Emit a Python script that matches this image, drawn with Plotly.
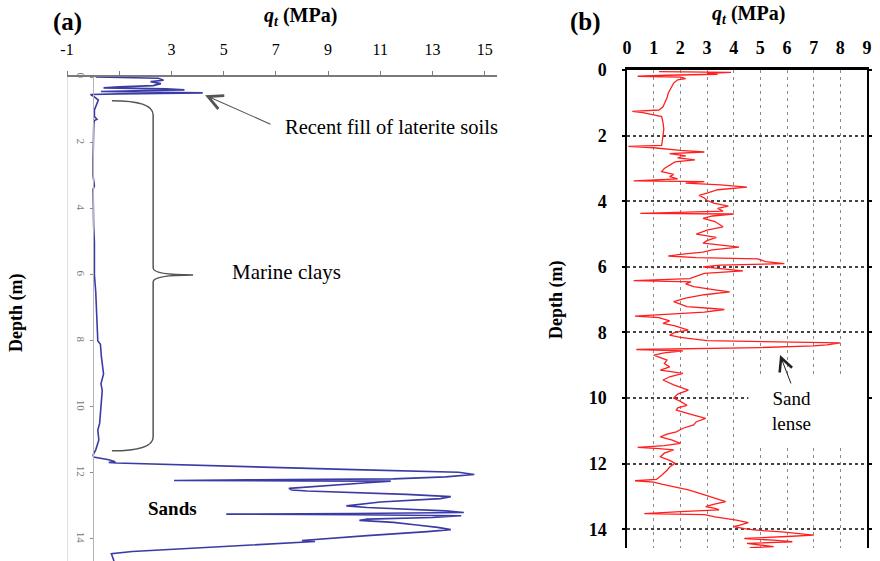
import plotly.graph_objects as go

# ---------------- data (a) : CPT profile, qt (MPa) vs depth (m)
depth_a = [0.00, 0.02, 0.04, 0.10, 0.14, 0.20, 0.26, 0.30, 0.33, 0.36, 0.39, 0.41, 0.44, 0.46,
           0.48, 0.51, 0.53, 0.60, 0.70, 0.80, 0.90, 1.00, 1.20, 1.28, 1.32, 1.40, 1.60, 2.0,
           2.5, 3.0, 3.3, 3.4, 4.0, 4.5, 5.0, 5.5, 6.0, 6.5, 7.0, 7.5, 8.0, 8.1, 8.5, 9.0,
           9.3, 9.5, 10.0, 10.5, 10.7, 11.0, 11.3, 11.45,
           11.52, 11.60, 11.66, 11.68, 11.70, 11.80, 11.90, 11.98, 12.05, 12.12, 12.18, 12.21,
           12.23, 12.24, 12.25, 12.30, 12.40, 12.47, 12.52, 12.55, 12.65, 12.72, 12.78, 12.88,
           13.00, 13.05, 13.15, 13.20, 13.23, 13.25, 13.27, 13.30, 13.35, 13.40, 13.44, 13.50,
           13.58, 13.65, 13.72, 13.78, 13.90, 14.00, 14.05, 14.08, 14.12, 14.25, 14.38, 14.45,
           14.55, 14.67]
qt_a = [0.1, 1.0, 2.5, 2.7, 2.2, 2.6, 2.3, 1.0, 0.4, 2.8, 3.5, 2.0, 0.3, 2.5,
        4.2, 1.0, -0.1, 0.05, 0.2, 0.15, 0.1, 0.05, 0.05, 0.15, 0.05, 0.03, 0.02, 0.0,
        0.0, 0.0, 0.05, 0.0, 0.0, 0.02, 0.05, 0.05, 0.05, 0.1, 0.12, 0.15, 0.18, 0.28, 0.32, 0.4,
        0.3, 0.35, 0.3, 0.25, 0.18, 0.22, 0.1, 0.0,
        0.02, 0.6, 0.85, 0.6, 0.9, 5.0, 10.0, 14.0, 14.6, 13.5, 11.5, 6.0,
        3.1, 8.0, 11.4, 10.5, 8.5, 7.5, 7.6, 8.2, 12.0, 13.7, 13.3, 11.0,
        9.7, 10.5, 13.5, 14.2, 10.0, 5.1, 10.0, 14.1, 13.0, 10.5, 10.2, 11.5,
        12.4, 13.2, 13.7, 12.8, 10.5, 9.0, 8.0, 8.5, 7.5, 4.5, 1.5, 0.7,
        0.75, 0.8]

# ---------------- data (b)
depth_b = [0.05, 0.07, 0.10, 0.13, 0.16, 0.19, 0.22, 0.26, 0.30, 0.40, 0.55, 0.70, 0.85, 1.00,
           1.12, 1.22, 1.26, 1.30, 1.36, 1.42, 1.60, 1.80, 2.00, 2.20, 2.30, 2.33, 2.37, 2.45,
           2.50, 2.55, 2.62, 2.68, 2.74, 2.80, 2.90, 3.00, 3.10, 3.18, 3.25, 3.32, 3.38, 3.40,
           3.45, 3.50, 3.57, 3.65, 3.75, 3.82, 3.90, 3.97, 4.06, 4.15, 4.22, 4.30, 4.37, 4.39,
           4.45, 4.52, 4.62, 4.72, 4.78, 4.88, 5.00, 5.10, 5.20, 5.28, 5.34, 5.40, 5.48, 5.55,
           5.62, 5.67, 5.72, 5.76, 5.84, 5.90, 5.95, 6.00, 6.06, 6.12, 6.20, 6.30, 6.36, 6.42,
           6.46, 6.52, 6.60, 6.70, 6.76, 6.85, 6.95, 7.06, 7.15, 7.21, 7.27, 7.30, 7.38, 7.45,
           7.50, 7.55, 7.65, 7.72, 7.80, 7.93, 8.00, 8.08, 8.15, 8.25, 8.28, 8.32, 8.38, 8.41,
           8.46, 8.52, 8.56, 8.62, 8.69, 8.78, 8.84, 8.95, 9.05, 9.15, 9.25, 9.35, 9.45, 9.60,
           9.76, 9.88, 10.00, 10.10, 10.22, 10.30, 10.37, 10.50, 10.62, 10.72, 10.82, 10.92,
           11.03, 11.10, 11.18, 11.28, 11.38, 11.45, 11.50, 11.54, 11.58, 11.68, 11.79, 11.90,
           11.99, 12.10, 12.20, 12.35, 12.48, 12.52, 12.56, 12.62, 12.70, 12.80, 12.90, 12.96,
           13.05, 13.16, 13.25, 13.31, 13.36, 13.41, 13.46, 13.52, 13.55, 13.62, 13.72, 13.80,
           13.88, 13.92, 13.98, 14.02, 14.08, 14.14, 14.18, 14.22, 14.28, 14.33, 14.38, 14.43,
           14.48, 14.53, 14.56]
qt_b = [1.2, 3.9, 3.0, 3.4, 1.5, 0.4, 2.0, 2.2, 1.9, 1.75, 1.65, 1.55, 1.5, 1.42,
        1.35, 1.2, 0.2, 0.6, 1.0, 1.3, 1.35, 1.38, 1.35, 1.32, 1.3, 0.05, 1.0, 2.0,
        2.9, 1.6, 2.2, 1.9, 2.55, 1.8, 1.6, 1.4, 1.3, 1.75, 1.6, 1.9, 0.25, 2.9,
        2.2, 3.5, 4.5, 3.4, 3.0, 2.7, 2.9, 3.0, 3.25, 3.8, 3.4, 3.6, 0.5, 4.0,
        3.2, 2.85, 3.3, 3.5, 3.6, 3.0, 2.6, 3.35, 3.0, 2.85, 3.5, 4.2, 3.2, 2.85,
        2.0, 1.55, 2.6, 4.9, 5.2, 5.9, 3.5, 2.85, 3.6, 4.35, 2.9, 2.6, 2.35, 0.25,
        2.4, 2.2, 2.5, 3.3, 3.85, 2.9, 2.2, 1.75, 2.1, 2.25, 3.2, 3.65, 2.9, 1.5,
        0.3, 1.2, 1.6, 1.35, 1.8, 2.3, 1.8, 1.6, 2.0, 3.0, 5.0, 8.0, 7.5, 7.0,
        5.0, 0.35, 2.1, 1.4, 1.0, 1.3, 1.5, 1.4, 1.6, 1.25, 2.1, 1.6, 1.35, 1.75,
        2.3, 1.9, 1.75, 2.0, 2.25, 1.9, 1.85, 2.4, 2.95, 2.6, 2.5, 2.1,
        1.85, 1.5, 1.25, 1.7, 2.0, 1.4, 0.4, 1.2, 1.75, 1.4, 1.25, 1.6,
        1.8, 1.6, 1.5, 1.3, 1.1, 0.3, 1.0, 1.3, 1.8, 2.3, 2.7, 2.95,
        3.3, 3.7, 3.2, 2.95, 3.3, 3.45, 2.0, 0.65, 2.9, 3.3, 4.1, 4.55,
        4.2, 4.0, 4.4, 4.75, 5.8, 6.5, 7.0, 6.0, 4.4, 5.5, 6.2, 4.5,
        5.0, 5.5, 4.6]

ticks_a = [-1, 1, 3, 5, 7, 9, 11, 13, 15]
ticktext_a = ["-1", "", "3", "5", "7", "9", "11", "13", "15"]
depth_ticks = [0, 2, 4, 6, 8, 10, 12, 14]
ticks_b = list(range(10))

W, H = 880, 561
SERIF = "Liberation Serif"


def P(px, py):
    return px / W, 1 - py / H


fig = go.Figure()
fig.add_trace(go.Scatter(x=qt_a, y=depth_a, mode="lines", xaxis="x", yaxis="y",
                         line=dict(color="#3b3ba6", width=1.6), showlegend=False))
fig.add_trace(go.Scatter(x=qt_b, y=depth_b, mode="lines", xaxis="x2", yaxis="y2",
                         line=dict(color="#ff1f1f", width=1.3), showlegend=False))

fig.update_layout(
    width=W, height=H, margin=dict(l=0, r=0, t=0, b=0, autoexpand=False),
    paper_bgcolor="white", plot_bgcolor="white", showlegend=False,
    font=dict(family=SERIF, color="black"),
    xaxis=dict(domain=[67 / W, 497 / W], range=[-1, 15.47], side="top", anchor="y",
               showline=True, linecolor="#7a7a7a", linewidth=1.5, ticks="outside",
               ticklen=4, tickcolor="#7a7a7a", tickvals=ticks_a, ticktext=ticktext_a,
               tickfont=dict(family=SERIF, size=16, color="black"), ticklabelstandoff=10,
               showgrid=False, zeroline=False, automargin=False),
    yaxis=dict(domain=[0, 1 - 77 / H], range=[14.67, 0], anchor="free", position=93 / W,
               showline=True, linecolor="#b5b5b5", linewidth=1, ticks="outside", ticklen=3,
               tickcolor="#888", tickvals=depth_ticks, tickangle=90,
               tickfont=dict(family=SERIF, size=11, color="#777"),
               showgrid=False, zeroline=False, automargin=False),
    xaxis2=dict(domain=[627 / W, 867 / W], range=[0, 9], side="top", anchor="y2",
                showline=True, linecolor="black", linewidth=2.5, ticks="",
                tickvals=ticks_b, tickfont=dict(family=SERIF, size=18, weight="bold"),
                ticklabelstandoff=6, showgrid=True, gridcolor="#8a8a8a", gridwidth=1,
                griddash="3px,4px", zeroline=False, automargin=False),
    yaxis2=dict(domain=[1 - 548 / H, 1 - 70 / H], range=[14.57, 0], anchor="x2",
                showline=True, linecolor="black", linewidth=1.5, mirror="ticks",
                ticks="outside", ticklen=3, tickwidth=2, tickcolor="black",
                tickvals=depth_ticks, tickfont=dict(family=SERIF, size=18, weight="bold"),
                ticklabelstandoff=12, showgrid=True, gridcolor="#444", gridwidth=1.5,
                griddash="dot", zeroline=False, automargin=False),
)

# left frame line of panel (a)
fig.add_shape(type="line", xref="x", yref="y", x0=-1, x1=-1, y0=0, y1=14.67,
              line=dict(color="#c4c4c4", width=1))
# curly brace (marine clays)
brace = ("M 0.72,0.72 Q 2.30,0.72 2.30,1.15 L 2.30,5.79 Q 2.30,6.0 3.83,6.0 "
         "Q 2.30,6.0 2.30,6.21 L 2.30,10.91 Q 2.30,11.33 0.72,11.33")
fig.add_shape(type="path", xref="x", yref="y", path=brace,
              line=dict(color="#555", width=1.5))
# blank box behind "Sand lense"
fig.add_shape(type="rect", xref="x2", yref="y2", x0=4.55, x1=9, y0=9.38, y1=11.45,
              fillcolor="white", line=dict(width=0), layer="between")

ann = []


def txt(px, py, text, size, bold=False, xanchor="center", angle=0):
    x, y = P(px, py)
    ann.append(dict(x=x, y=y, xref="paper", yref="paper", text=text, showarrow=False,
                    xanchor=xanchor, yanchor="middle", textangle=angle,
                    font=dict(family=SERIF, size=size, color="black",
                              weight="bold" if bold else "normal")))


txt(67, 22, "(a)", 25, bold=True)
txt(585, 22, "(b)", 25, bold=True)
txt(300, 17, "<i>q<sub>t</sub></i> (MPa)", 20, bold=True)
txt(748, 15, "<i>q<sub>t</sub></i> (MPa)", 20, bold=True)
txt(16, 313, "Depth (m)", 18, bold=True, angle=-90)
txt(556, 300, "Depth (m)", 18, bold=True, angle=-90)
txt(391, 127, "Recent fill of laterite soils", 20.5)
txt(286, 272, "Marine clays", 21)
txt(172, 508, "Sands", 19, bold=True)
txt(791, 411, "Sand<br>lense", 19)

ann.append(dict(x=4.29, y=0.55, xref="x", yref="y", ax=6.85, ay=1.45, axref="x", ayref="y",
                text="", showarrow=True, arrowhead=5, arrowsize=2.6, arrowwidth=1.1,
                arrowcolor="#555"))
ann.append(dict(x=5.74, y=8.69, xref="x2", yref="y2", ax=6.17, ay=9.6, axref="x2",
                ayref="y2", text="", showarrow=True, arrowhead=5, arrowsize=2.6,
                arrowwidth=1.0, arrowcolor="#222"))
fig.update_layout(annotations=ann)

fig.write_html("out.html", config={"displayModeBar": False},
               post_script="document.body.style.margin='0px';document.body.style.overflow='hidden';")
